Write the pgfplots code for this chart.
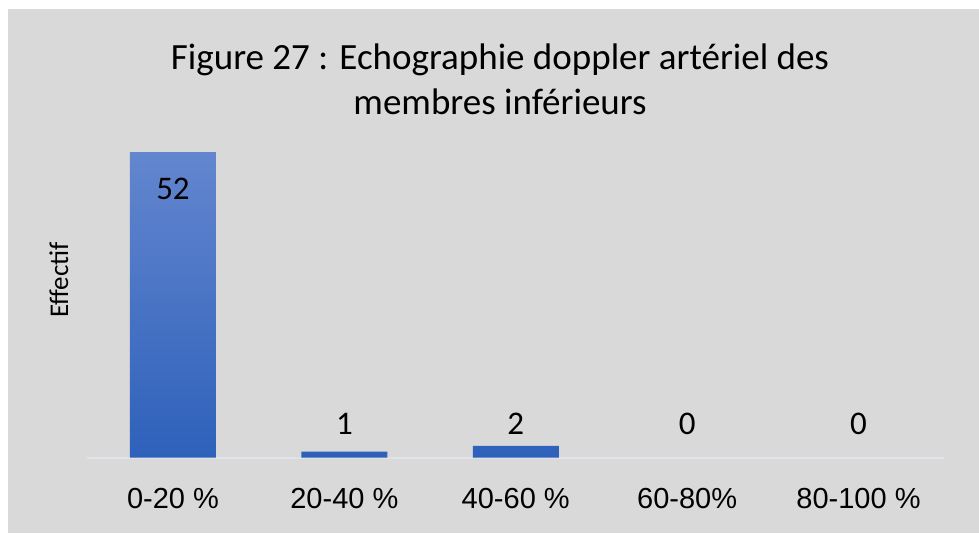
\documentclass[border=0pt]{standalone}
\usepackage{fontspec}
\setmainfont{Carlito}
\newfontfamily\arialfont{Liberation Sans}
\usepackage{pgfplots}
\pgfplotsset{compat=1.18}
\definecolor{bg}{HTML}{D9D9D9}
\definecolor{bartop}{HTML}{6386CF}
\definecolor{barbot}{HTML}{2E61BA}
\definecolor{axisline}{HTML}{DFE3EA}
\begin{document}
\begin{tikzpicture}
\path[use as bounding box, fill=white] (0,0) rectangle (979pt,533pt);
\fill[bg] (8pt,0) rectangle (979pt,524pt);
\node[anchor=base, font=\fontsize{37}{44}\selectfont] at (500pt,463pt) {Figure 27 : Echographie doppler artériel des};
\node[anchor=base, font=\fontsize{37}{44}\selectfont] at (500pt,418pt) {membres inférieurs};
\node[anchor=base, rotate=90, font=\fontsize{27}{32}\selectfont] at (68pt,253pt) {Effectif};
\begin{axis}[
    at={(87.3pt,75.5pt)}, anchor=south west,
    scale only axis,
    width=856.9pt, height=323.1pt,
    xmin=-0.5, xmax=4.5, ymin=0, ymax=55,
    axis x line*=bottom, axis y line=none,
    x axis line style={-, draw=axisline, line width=2pt},
    xtick={0,1,2,3,4},
    xticklabels={0-20 \%, 20-40 \%, 40-60 \%, 60-80\%, 80-100 \%},
    xtick style={draw=none},
    ytick=\empty,
    xticklabel style={font=\arialfont\fontsize{29}{34}\selectfont, anchor=base, yshift=-50.5pt},
    unbounded coords=discard,
    clip=false
]
% zero bars are not drawn
\addplot[ybar, bar width=86pt, draw=none, top color=bartop, bottom color=barbot,
    y filter/.expression={y<0.5 ? nan : y}]
    coordinates {(0,52) (1,1) (2,2) (3,0) (4,0)};
\addplot[draw=none, mark=none, nodes near coords, point meta=explicit symbolic,
    every node near coord/.append style={anchor=base, inner sep=0pt, font=\fontsize{33}{40}\selectfont}]
    coordinates {(0,44)[52] (1,4)[1] (2,4)[2] (3,4)[0] (4,4)[0]};
\end{axis}
\end{tikzpicture}
\end{document}
